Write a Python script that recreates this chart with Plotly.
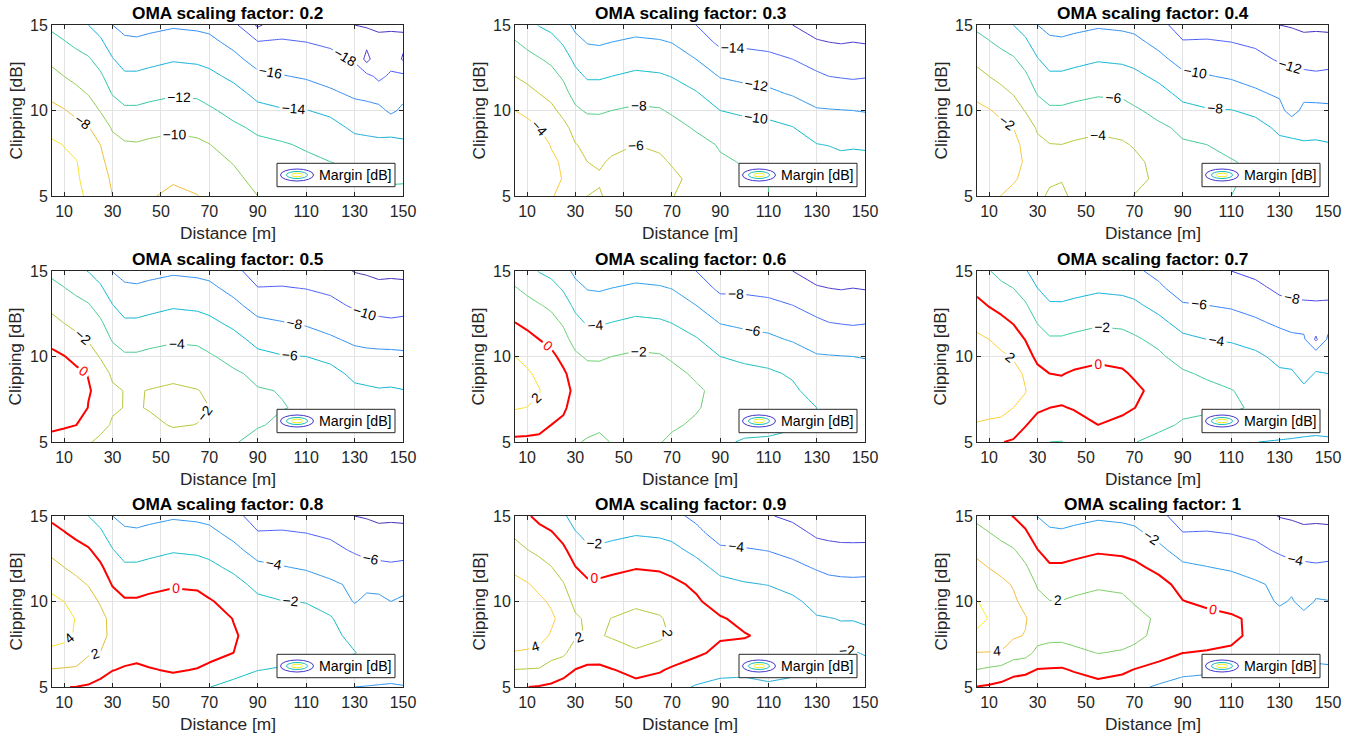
import numpy as np
import plotly.graph_objects as go

# ---------------- data ----------------
DIST = [5, 10, 15, 20, 25, 30, 35, 40, 45, 55, 65, 70, 80, 90, 100, 110, 120, 130, 135, 140, 145, 150]
CLIP = [5, 6, 7, 8, 9, 10, 11, 12, 13, 14, 15]
OMA_LABELS = ["0.2", "0.3", "0.4", "0.5", "0.6", "0.7", "0.8", "0.9", "1"]

# Margin [dB] for OMA factor 0.2 (smooth part), one list per distance, clipping 5..15 dB
MARGIN_02_BY_DIST = [
    [-5.0, -5.2, -5.5, -5.7, -6.6, -7.5, -8.5, -9.5, -10.4, -11.4, -12.4],
    [-5.3, -5.5, -5.7, -6.05, -7.0, -7.9, -8.9, -10.0, -11.0, -11.9, -12.8],
    [-5.7, -5.8, -5.9, -6.7, -7.5, -8.4, -9.5, -10.5, -11.4, -12.4, -13.6],
    [-6.2, -6.5, -7.0, -7.5, -7.9, -9.0, -10.1, -11.0, -11.8, -12.9, -14.0],
    [-7.1, -7.2, -7.5, -8.0, -8.9, -10.1, -10.95, -11.7, -12.7, -13.7, -14.7],
    [-8.0, -8.3, -8.9, -9.4, -10.2, -11.2, -12.1, -13.0, -13.9, -14.9, -16.0],
    [-8.5, -8.9, -9.3, -9.8, -10.7, -11.7, -12.7, -13.7, -14.7, -15.6, -16.6],
    [-8.6, -9.0, -9.4, -9.85, -10.8, -11.7, -12.7, -13.7, -14.7, -15.7, -16.7],
    [-8.2, -8.7, -9.2, -9.7, -10.55, -11.5, -12.5, -13.5, -14.5, -15.5, -16.5],
    [-7.6, -8.2, -8.9, -9.5, -10.3, -11.2, -12.2, -13.15, -14.15, -15.2, -16.2],
    [-7.95, -8.5, -9.1, -9.7, -10.45, -11.35, -12.3, -13.3, -14.3, -15.35, -16.35],
    [-8.5, -8.9, -9.4, -9.95, -10.85, -11.75, -12.65, -13.55, -14.55, -15.55, -16.5],
    [-9.2, -9.55, -10.1, -10.9, -11.7, -12.5, -13.35, -14.4, -15.5, -16.5, -17.5],
    [-10.0, -10.55, -11.1, -11.65, -12.3, -13.5, -14.5, -15.6, -16.7, -17.9, -18.7],
    [-10.6, -11.0, -11.4, -11.8, -12.85, -13.85, -14.9, -15.9, -16.9, -17.85, -18.7],
    [-10.9, -11.2, -11.6, -12.25, -13.1, -13.95, -15.1, -16.2, -17.1, -18.0, -18.9],
    [-11.1, -11.5, -12.0, -12.7, -13.45, -14.35, -15.7, -16.65, -17.5, -18.3, -19.5],
    [-11.3, -11.75, -12.3, -13.45, -14.3, -15.35, -16.3, -17.2, -18.2, -19.4, -20.0],
    [-11.4, -11.9, -12.7, -13.55, -14.4, -15.4, -16.5, -17.5, -18.5, -19.5, -20.1],
    [-11.5, -12.1, -13.1, -13.65, -14.5, -15.45, -16.6, -17.6, -18.6, -19.6, -20.3],
    [-11.6, -12.2, -13.1, -13.6, -14.5, -15.5, -16.6, -17.7, -18.7, -19.5, -20.3],
    [-11.5, -12.2, -13.0, -13.7, -14.6, -15.6, -16.6, -17.6, -18.6, -19.6, -20.3],
]

# gain of each OMA factor relative to 0.2 [dB]
OMA_GAIN = [0.0, 3.5, 6.0, 7.95, 9.5, 10.9, 12.0, 13.05, 13.95]

# extra clipping loss [dB] at low clipping (rows: clipping 5..10 dB, cols: LOSS_DIST)
LOSS_DIST = [5, 20, 35, 55, 80, 110, 150]
CLIP_LOSS = [
    [[0] * 7] * 6,
    [[1.2, 1.1, 1.0, 1.0, 0.9, 0.6, 0.5], [0.5, 0.4, 0.4, 0.4, 0.3, 0.3, 0.2],
     [0.2, 0.2, 0.2, 0.2, 0.2, 0.2, 0.1], [0.1, 0.1, 0, 0, 0, 0, 0], [0] * 7, [0] * 7],
    [[2.4, 2.3, 1.6, 1.6, 1.5, 1.1, 1.0], [1.4, 1.3, 1.0, 0.8, 0.7, 0.7, 0.6],
     [0.8, 0.7, 0.4, 0.3, 0.3, 0.3, 0.3], [0.3, 0.25, 0.15, 0.1, 0.2, 0.2, 0.2],
     [0.1, 0.1, 0, 0, 0, 0, 0], [0] * 7],
    [[3.8, 3.5, 3.2, 3.2, 2.6, 2.3, 2.0], [2.2, 2.1, 1.8, 1.6, 1.3, 1.2, 1.0],
     [1.0, 1.0, 0.7, 0.6, 0.5, 0.5, 0.4], [0.4, 0.35, 0.2, 0.2, 0.2, 0.2, 0.2],
     [0.1, 0.1, 0.05, 0, 0, 0, 0], [0] * 7],
    [[5.0, 4.0, 3.1, 3.4, 3.5, 2.8, 2.5], [3.2, 3.0, 2.3, 2.2, 2.3, 1.9, 1.7],
     [1.9, 1.7, 1.5, 1.3, 1.2, 1.2, 1.2], [0.8, 0.7, 0.6, 0.5, 0.3, 0.6, 0.5],
     [0.3, 0.3, 0.2, 0.1, 0.1, 0.2, 0.2], [0] * 7],
    [[5.9, 4.8, 4.4, 4.2, 4.4, 3.8, 3.7], [3.9, 3.9, 3.0, 2.7, 2.8, 2.2, 2.0],
     [2.4, 1.9, 1.6, 1.6, 1.4, 1.1, 1.0], [1.8, 1.0, 0.5, 0.5, 0.6, 0.6, 0.5],
     [0.8, 0.3, 0.2, 0.1, 0.4, 0.3, 0.3], [0.3, 0.1, 0.1, 0.1, 0.1, 0.1, 0.1]],
    [[7.0, 6.0, 5.0, 5.4, 5.5, 4.8, 4.6], [4.9, 4.3, 3.3, 3.6, 3.6, 3.0, 2.9],
     [3.0, 2.8, 2.0, 2.0, 1.9, 1.7, 1.6], [1.5, 1.5, 1.0, 0.9, 0.95, 0.95, 0.9],
     [0.5, 0.6, 0.3, 0.3, 0.35, 0.45, 0.45], [0.1] * 7],
    [[8.0, 7.2, 6.0, 6.0, 6.0, 4.4, 4.2], [5.9, 5.2, 4.6, 4.3, 4.5, 3.3, 3.1],
     [3.7, 3.5, 2.7, 2.3, 2.6, 2.0, 2.0], [2.0, 1.7, 1.35, 1.1, 1.25, 1.1, 1.1],
     [0.9, 0.85, 0.55, 0.4, 0.6, 0.6, 0.6], [0.3, 0.3, 0.2, 0.1, 0.3, 0.3, 0.3]],
    [[9.0, 8.7, 6.8, 7.0, 7.0, 6.2, 5.0], [6.8, 6.8, 5.2, 5.0, 5.2, 4.2, 4.0],
     [4.5, 4.0, 3.3, 3.0, 3.0, 2.5, 2.4], [2.5, 2.2, 1.7, 1.6, 1.5, 1.5, 1.4],
     [1.0, 1.0, 0.7, 0.7, 0.5, 0.7, 0.7], [0.4, 0.6, 0.2, 0.2, 0.4, 0.4, 0.3]],
]

# local irregularities: (distance, clipping, delta dB)
LOCAL_DEV = [
    [(90, 15, -1.6), (135, 13, -2.1), (150, 13, -1.6), (145, 10, -0.9), (140, 11, -0.4), (140, 12, -0.8)],
    [],
    [(135, 10, -1.5)],
    [],
    [],
    [(145, 11, -2.6), (140, 9, -0.6), (140, 8, -0.4)],
    [(130, 10, -0.7), (145, 10, -0.4)],
    [],
    [(130, 10, -0.6), (140, 10, -1.0)],
]

XTICKS = [10, 30, 50, 70, 90, 110, 130, 150]
YTICKS = [5, 10, 15]

# ---------------- helpers ----------------
PARULA = [
    (0.2422, 0.1504, 0.6603), (0.2706, 0.2147, 0.8364), (0.2813, 0.3006, 0.9414),
    (0.2699, 0.3892, 0.9906), (0.1963, 0.4847, 0.9892), (0.1687, 0.5703, 0.9359),
    (0.1248, 0.6459, 0.8883), (0.0297, 0.7082, 0.8163), (0.0964, 0.7500, 0.7120),
    (0.2161, 0.7843, 0.5923), (0.3909, 0.8029, 0.4354), (0.6174, 0.7876, 0.2612),
    (0.8203, 0.7498, 0.1535), (0.9728, 0.7298, 0.2394), (0.9892, 0.8136, 0.1885),
    (0.9597, 0.9135, 0.1423), (0.9769, 0.9839, 0.0805),
]
PPOS = [0, 4, 8, 12, 16, 20, 24, 28, 32, 36, 40, 44, 48, 52, 56, 60, 63]


def parula(t):
    t = min(max(t, 0.0), 1.0) * 63
    rgb = [np.interp(t, PPOS, [c[k] for c in PARULA]) for k in range(3)]
    return "rgb(%d,%d,%d)" % tuple(int(round(255 * v)) for v in rgb)


def panel_grid(k):
    z = np.array(MARGIN_02_BY_DIST, dtype=float).T + OMA_GAIN[k]
    for r, row in enumerate(CLIP_LOSS[k]):
        z[r] -= np.interp(DIST, LOSS_DIST, row)
    for d, c, dv in LOCAL_DEV[k]:
        z[CLIP.index(c), DIST.index(d)] += dv
    return z


W, H = 1356, 739
COL_L = [52, 515, 977]
COL_R = [403, 865, 1328]
ROW_T = [25, 271, 516]
ROW_B = [196, 442, 687]
FONT = "Liberation Sans, Arial, Helvetica, sans-serif"
AXC = "#262626"


def px(x):
    return x / W


def py(y):
    return 1 - y / H


fig = go.Figure()
annotations = []
shapes = []
layout_axes = {}

for k in range(9):
    r, c = divmod(k, 3)
    n = k + 1
    xa = "x" if n == 1 else "x%d" % n
    ya = "y" if n == 1 else "y%d" % n
    L, R, T, B = COL_L[c], COL_R[c], ROW_T[r], ROW_B[r]

    z = panel_grid(k)
    zmin, zmax = float(z.min()), float(z.max())
    lv_lo = int(np.ceil(zmin / 2.0) * 2)
    lv_hi = int(np.floor(zmax / 2.0) * 2)
    for lv in range(lv_lo, lv_hi + 1, 2):
        if lv == 0:
            col, wid, lcol = "#ff0000", 2.0, "#ff0000"
        else:
            col, wid, lcol = parula((lv - zmin) / (zmax - zmin)), 1.0, "#000000"
        fig.add_trace(go.Contour(
            x=DIST, y=CLIP, z=z,
            contours=dict(coloring="none", start=lv, end=lv + 1, size=2,
                          showlabels=True,
                          labelfont=dict(size=13.8, color=lcol, family=FONT)),
            line=dict(color=col, width=wid, smoothing=0),
            showscale=False, hoverinfo="skip",
            xaxis=xa, yaxis=ya,
        ))

    common = dict(showline=True, linecolor=AXC, linewidth=1, mirror="ticks",
                  ticks="inside", ticklen=4, tickcolor=AXC, tickwidth=1,
                  showgrid=True, gridcolor="#e3e3e3", gridwidth=1, zeroline=False,
                  tickfont=dict(size=16, color=AXC, family=FONT), fixedrange=True,
                  automargin=False)
    layout_axes["xaxis" if n == 1 else "xaxis%d" % n] = dict(
        domain=[px(L), px(R)], range=[5, 150], tickvals=XTICKS,
        anchor=ya, ticklabelstandoff=1, **common)
    layout_axes["yaxis" if n == 1 else "yaxis%d" % n] = dict(
        domain=[py(B), py(T)], range=[5, 15], tickvals=YTICKS,
        anchor=xa, **common)

    cx = (L + R) / 2
    annotations.append(dict(text="<b>OMA scaling factor: %s</b>" % OMA_LABELS[k],
                            x=px(cx), y=py(T - 12), xref="paper", yref="paper",
                            showarrow=False, xanchor="center", yanchor="middle",
                            font=dict(size=17.3, color="#000000", family=FONT)))
    annotations.append(dict(text="Distance [m]", x=px(cx), y=py(B + 37),
                            xref="paper", yref="paper", showarrow=False,
                            xanchor="center", yanchor="middle",
                            font=dict(size=17.3, color=AXC, family=FONT)))
    annotations.append(dict(text="Clipping [dB]", x=px(L - 37), y=py((T + B) / 2),
                            xref="paper", yref="paper", showarrow=False, textangle=-90,
                            xanchor="center", yanchor="middle",
                            font=dict(size=17.3, color=AXC, family=FONT)))

    # legend box
    shapes.append(dict(type="rect", xref="paper", yref="paper",
                       x0=px(R - 126), x1=px(R - 8), y0=py(B - 9.3), y1=py(B - 32.7),
                       line=dict(color=AXC, width=1), fillcolor="white", layer="above"))
    ecx, ecy = R - 106, B - 21
    for (ew, eh, ecol) in [(33, 12, parula(0.05)), (21, 7, parula(0.5)), (11, 3.6, parula(0.97))]:
        shapes.append(dict(type="circle", xref="paper", yref="paper",
                           x0=px(ecx - ew / 2), x1=px(ecx + ew / 2),
                           y0=py(ecy + eh / 2), y1=py(ecy - eh / 2),
                           line=dict(color=ecol, width=1), layer="above"))
    annotations.append(dict(text="Margin [dB]", x=px(R - 86), y=py(ecy),
                            xref="paper", yref="paper", showarrow=False,
                            xanchor="left", yanchor="middle",
                            font=dict(size=14.2, color="#000000", family=FONT)))

fig.update_layout(
    width=W, height=H, margin=dict(l=0, r=0, t=0, b=0, pad=0),
    paper_bgcolor="white", plot_bgcolor="white", showlegend=False,
    font=dict(family=FONT, color=AXC),
    annotations=annotations, shapes=shapes, **layout_axes,
)

fig.write_html("out.html", config={"displayModeBar": False},
               post_script="document.body.style.margin='0';document.body.style.overflow='hidden';")
